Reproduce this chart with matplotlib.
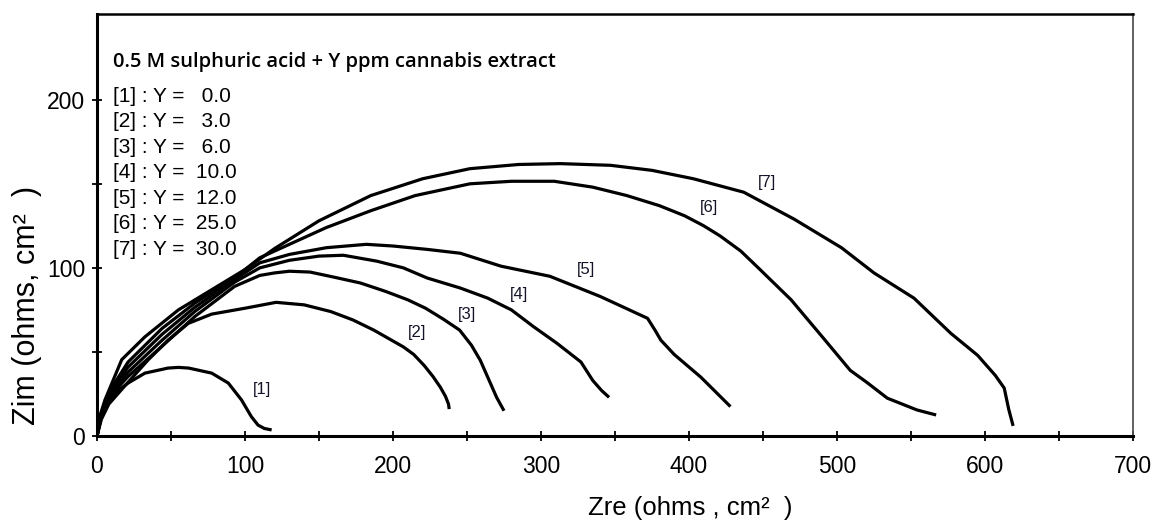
import numpy as np
import matplotlib
matplotlib.use('Agg')
import matplotlib.pyplot as plt

# Nyquist data (Zre, Zim in ohms cm^2) for each extract concentration
conc = [0.0, 3.0, 6.0, 10.0, 12.0, 25.0, 30.0]

zre1 = [0, 2, 5.4, 12, 21, 32.4, 48, 55, 62, 77.5, 88.7, 97.6, 104.3, 108.8, 113, 118]
zim1 = [0, 9, 17.5, 25.5, 31.5, 37.4, 40.4, 40.8, 40.4, 37.4, 31.5, 21.5, 11.5, 6.5, 4.5, 3.6]

zre2 = [0, 3, 8, 19, 34.7, 48, 61.7, 77.5, 100, 121, 140, 158, 173, 187, 199, 207,
        214, 221, 227, 232, 235.5, 237.5, 238]
zim2 = [0, 10, 19, 30, 45.4, 57, 67, 72.5, 76, 79.5, 78, 74, 69, 63, 57, 53,
        48.5, 42, 35.4, 29, 23.5, 19, 16]

zre3 = [0, 3, 8, 21, 43.8, 66.3, 93, 110, 120, 130, 144, 160, 178, 195, 210, 222,
        234, 245, 253, 259, 264, 270, 275]
zim3 = [0, 12, 23, 35.4, 53.3, 71.2, 89, 95.5, 97, 98, 97.5, 94.5, 91, 86, 81, 76,
        69.5, 63, 54, 45, 35, 23, 15]

zre4 = [0, 3, 8, 21, 44, 66, 93, 110, 130, 150, 166.5, 189, 207, 223, 245.5, 264,
        280, 295, 311, 327, 335, 341, 346]
zim4 = [0, 12.5, 24, 38, 57, 74, 91.5, 100, 104.5, 107, 107.5, 104, 100, 94, 88, 82,
        75, 65, 55, 44, 33, 27, 23]

zre5 = [0, 3, 8, 21, 44, 66, 93, 110, 130, 155, 182, 200, 223, 245.5, 273, 306,
        340, 372, 377, 381, 390, 408, 428]
zim5 = [0, 13, 25, 41, 60.5, 76.5, 93, 103, 108, 112, 114, 113, 111, 108.7, 101, 95,
        83, 70, 63, 57, 48.5, 35, 17.5]

zre6 = [0, 3, 8, 21, 44, 66, 93, 110, 130, 155, 185, 215, 252, 280, 309, 335, 358,
        380, 397, 410, 421, 435, 448, 469, 491, 509, 520, 534, 554, 567]
zim6 = [0, 14, 26, 44, 64, 79, 94, 106, 114, 124, 134, 143, 150, 151.5, 151.5, 148, 143,
        137, 131, 125, 119, 110, 99, 81, 58, 39, 32, 22.5, 15.5, 12.5]

zre7 = [0, 2, 5.4, 16.7, 32.4, 55, 77.5, 100, 120, 150, 185, 220, 252, 285, 313, 347,
        375, 403, 437, 471, 503, 525, 552, 577, 595, 607, 613, 616, 619]
zim7 = [0, 12, 21.5, 45.4, 59, 75, 87, 99, 111.5, 128, 143, 153, 159, 161.5, 162, 161,
        158, 153, 145, 129, 112, 97, 82, 61, 48, 36, 28.5, 16, 6]

# where the [n] tags sit
tag_x = [111.5, 216, 250, 285, 330.5, 413.5, 452.5]
tag_y = [27.5, 61.5, 72, 84, 99, 136, 151]

curves = [(zre1, zim1), (zre2, zim2), (zre3, zim3), (zre4, zim4),
          (zre5, zim5), (zre6, zim6), (zre7, zim7)]

arial = ['Liberation Sans', 'DejaVu Sans']

fig = plt.figure(figsize=(11.52, 5.26), dpi=100)
ax = fig.add_axes([0.0842, 0.1711, 0.8993, 0.8023])

for zr, zi in curves:
    ax.plot(zr, zi, color='black', lw=2.3, solid_joinstyle='round',
            solid_capstyle='butt')

for i in range(len(curves)):
    ax.text(tag_x[i], tag_y[i], '[%d]' % (i + 1), family=arial, fontsize=12,
            color='#141428', ha='center', va='center')

ax.set_xlim(0, 700)
ax.set_ylim(0, 251)
ax.set_xticks(np.arange(0, 701, 100))
ax.set_xticks(np.arange(50, 700, 100), minor=True)
ax.set_yticks([0, 100, 200])
ax.set_yticks([50, 150], minor=True)
ax.tick_params(which='both', direction='inout', length=7, width=1.3,
               labelsize=16.5)
ax.tick_params(axis='x', pad=10)
ax.tick_params(axis='y', pad=5)
for lab in ax.get_xticklabels() + ax.get_yticklabels():
    lab.set_family(arial)

for s in ['left', 'bottom']:
    ax.spines[s].set_linewidth(2.2)
ax.spines['top'].set_linewidth(1.8)
ax.spines['right'].set_linewidth(1.3)
ax.spines['right'].set_color('#555555')

ax.set_xlabel('Zre (ohms , cm\u00b2  )', family=arial, fontsize=18.5)
ax.set_ylabel('Zim (ohms, cm\u00b2  )', family=arial, fontsize=22)
ax.xaxis.set_label_coords(0.573, -0.142)
ax.yaxis.set_label_coords(-0.053, 0.31)

# legend block, top left
ax.text(0.0155, 0.886, '0.5 M sulphuric acid + Y ppm cannabis extract',
        transform=ax.transAxes, family=['Open Sans', 'DejaVu Sans'],
        fontweight='semibold', fontsize=14.5, va='center', ha='left')
for i, c in enumerate(conc):
    ax.text(0.0155, 0.805 - i * 0.0605, '[%d] : Y = %5.1f' % (i + 1, c),
            transform=ax.transAxes, family=arial, fontsize=15,
            va='center', ha='left')

fig.savefig('out.png', dpi=100)
